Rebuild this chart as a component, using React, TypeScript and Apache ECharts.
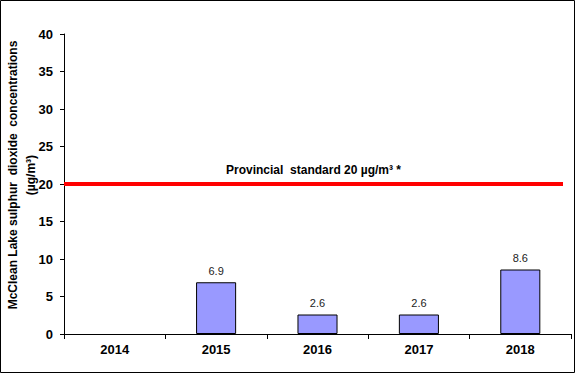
import React, { useEffect, useRef } from "react";
import * as echarts from "echarts";

const categories = ["2014", "2015", "2016", "2017", "2018"];
const so2Values: (number | null)[] = [null, 6.9, 2.6, 2.6, 8.6];
const standardValue = 20;
const standardLabel = "Provincial  standard 20 µg/m³ *";
const yTitleLine1 = "McClean Lake sulphur  dioxide  concentrations";
const yTitleLine2 = "(µg/m³)";

const FONT = "Arial, 'Liberation Sans', sans-serif";

export default function App() {
  const ref = useRef<HTMLDivElement>(null);
  useEffect(() => {
    if (!ref.current) return;
    const chart = echarts.init(ref.current, undefined, { renderer: "svg" });
    chart.setOption({
      animation: false,
      backgroundColor: "#fff",
      textStyle: { fontFamily: FONT },
      grid: {
        left: 64,
        right: 5,
        top: 34,
        bottom: 41,
        containLabel: false,
        outerBoundsMode: "none",
      },
      xAxis: {
        type: "category",
        data: categories,
        boundaryGap: true,
        axisLine: { lineStyle: { color: "#000", width: 1 } },
        axisTick: { show: true, length: 5, lineStyle: { color: "#000" } },
        axisLabel: {
          color: "#000",
          fontWeight: "bold",
          fontSize: 13,
          fontFamily: FONT,
          margin: 9,
        },
      },
      yAxis: {
        type: "value",
        min: 0,
        max: 40,
        interval: 5,
        splitLine: { show: false },
        axisLine: { show: true, lineStyle: { color: "#000", width: 1 } },
        axisTick: { show: true, length: 4, lineStyle: { color: "#000" } },
        axisLabel: {
          color: "#000",
          fontWeight: "bold",
          fontSize: 13,
          fontFamily: FONT,
          margin: 11,
        },
      },
      series: [
        {
          type: "bar",
          data: so2Values,
          barWidth: "39.5%",
          itemStyle: { color: "#9999FF", borderColor: "#000", borderWidth: 1 },
          label: {
            show: true,
            position: "top",
            distance: 6,
            color: "#222",
            fontSize: 11,
            fontFamily: FONT,
          },
        },
      ],
    });

    const y = chart.convertToPixel({ yAxisIndex: 0 }, standardValue) as number;
    const x0 = 64;
    const x1 = 563;
    chart.setOption({
      graphic: [
        {
          type: "rect",
          shape: { x: 0.5, y: 0.5, width: 574, height: 372 },
          style: { fill: "none", stroke: "#000", lineWidth: 1 },
          silent: true,
        },
        {
          type: "line",
          shape: { x1: x0, y1: y, x2: x1, y2: y },
          style: { stroke: "#FF0000", lineWidth: 4 },
          silent: true,
          z: 10,
        },
        {
          type: "text",
          x: (x0 + x1) / 2,
          y: y - 14,
          style: {
            text: standardLabel,
            fill: "#000",
            font: `bold 12px ${FONT}`,
            align: "center",
            verticalAlign: "middle",
          },
          silent: true,
          z: 10,
        },
        {
          type: "text",
          x: 12.5,
          y: 175,
          rotation: Math.PI / 2,
          style: {
            text: yTitleLine1,
            fill: "#000",
            font: `bold 12px ${FONT}`,
            align: "center",
            verticalAlign: "middle",
          },
          silent: true,
        },
        {
          type: "text",
          x: 31,
          y: 175,
          rotation: Math.PI / 2,
          style: {
            text: yTitleLine2,
            fill: "#000",
            font: `bold 12px ${FONT}`,
            align: "center",
            verticalAlign: "middle",
          },
          silent: true,
        },
      ],
    });

    return () => chart.dispose();
  }, []);
  return (
    <div
      ref={ref}
      style={{ position: "fixed", left: 0, top: 0, width: 576, height: 375 }}
    />
  );
}
